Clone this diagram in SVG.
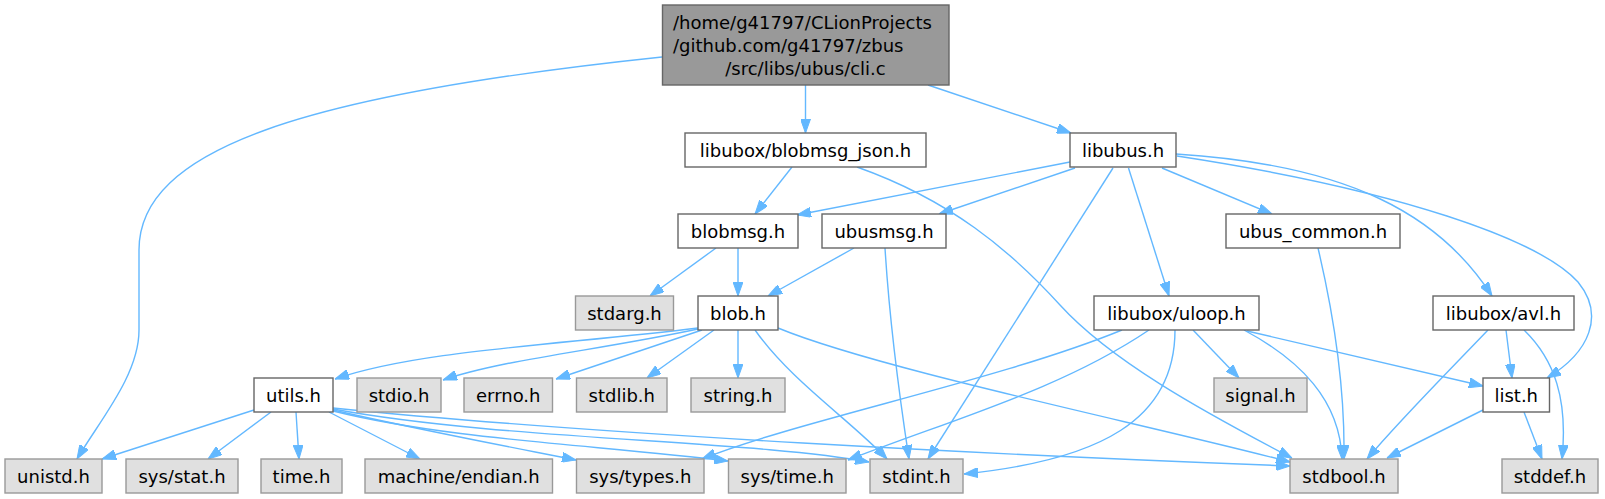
<svg xmlns="http://www.w3.org/2000/svg" width="1605" height="499" viewBox="0 0 1605 499">
<style>
text{font-family:"DejaVu Sans","Noto Sans",sans-serif;font-size:18px;fill:#000}
.n rect{fill:#fff;stroke:#666;stroke-width:1.4}
.g rect{fill:#e0e0e0;stroke:#999;stroke-width:1.4}
.r rect{fill:#999;stroke:#666;stroke-width:1.4}
.n text,.g text{text-anchor:middle}
#edges path{fill:none;stroke:#63b8ff;stroke-width:1.4;marker-end:url(#a)}
</style>
<defs>
<marker id="a" markerUnits="userSpaceOnUse" markerWidth="14" markerHeight="10" refX="14" refY="5" orient="auto"><path d="M0,0 L14,5 L0,10 z" fill="#63b8ff" stroke="#63b8ff" stroke-width="1"/></marker>
</defs>
<rect width="1605" height="499" fill="#fff"/>
<g id="edges">
<path d="M662,57 C300,95 139,150 139,250 L139,330 C139,375 100,420 77,459"/>
<path d="M805.5,85 L805.5,133"/>
<path d="M928,85 L1071,133"/>
<path d="M792,167 L755,214"/>
<path d="M857,167 C950,200 1010,250 1060,305 C1110,360 1200,410 1292,458"/>
<path d="M1070,162 L797,215"/>
<path d="M1075,168 L939,214"/>
<path d="M1128.5,168 L1169,296"/>
<path d="M1113,168 L928,459"/>
<path d="M1162,168 L1272,214"/>
<path d="M1176,154 C1350,165 1440,215 1492,296"/>
<path d="M1177,156 C1400,190 1540,240 1578,282 C1605,315 1590,352 1547,378"/>
<path d="M716,248 L650,296"/>
<path d="M738,248 L738,296"/>
<path d="M854,248 L768,296"/>
<path d="M885,248 C890,330 900,400 909,459"/>
<path d="M1318,248 C1335,320 1345,390 1344,459"/>
<path d="M698,328 C560,345 420,350 335,379"/>
<path d="M698,329 C600,350 500,360 443,380"/>
<path d="M702,330 L556,379"/>
<path d="M714,330 L647,378"/>
<path d="M738,330 L738,378"/>
<path d="M755,330 C790,380 850,420 887,459"/>
<path d="M778,328 C880,370 1150,425 1290,462"/>
<path d="M1122,330 C1000,380 800,420 702,459"/>
<path d="M1149,330 C1060,390 950,420 848,460"/>
<path d="M1175,330 C1175,420 1100,460 964,474"/>
<path d="M1193,330 L1239,378"/>
<path d="M1244,330 C1300,360 1340,400 1342,459"/>
<path d="M1247,331 L1483,386"/>
<path d="M1488,330 C1440,380 1400,420 1367,459"/>
<path d="M1506,330 L1512,378"/>
<path d="M1524,330 C1555,360 1568,400 1562,459"/>
<path d="M1483,410 L1387,458"/>
<path d="M1524,412 L1542,459"/>
<path d="M254,410 L102,459"/>
<path d="M271,412 L208,459"/>
<path d="M296,412 L299,459"/>
<path d="M329,412 L420,459"/>
<path d="M333,410 C420,430 500,445 576,460"/>
<path d="M333,411 C450,440 600,445 728,461"/>
<path d="M333,409 C500,440 750,440 869,462"/>
<path d="M333,408 C600,435 1000,455 1290,466"/>
</g>
<g id="root" class="r"><rect x="662.5" y="5" width="286.5" height="80"/><text x="673" y="28.5">/home/g41797/CLionProjects</text><text x="673" y="51.5">/github.com/g41797/zbus</text><text x="805.5" y="74.5" text-anchor="middle">/src/libs/ubus/cli.c</text></g>
<g id="blobmsg_json" class="n"><rect x="685" y="133" width="241" height="34"/><text x="805.5" y="157">libubox/blobmsg_json.h</text></g>
<g id="libubus" class="n"><rect x="1070" y="133" width="106" height="34"/><text x="1123" y="157">libubus.h</text></g>
<g id="blobmsg" class="n"><rect x="678" y="214" width="120" height="34"/><text x="738" y="238">blobmsg.h</text></g>
<g id="ubusmsg" class="n"><rect x="822" y="214" width="124" height="34"/><text x="884" y="238">ubusmsg.h</text></g>
<g id="ubus_common" class="n"><rect x="1226" y="214" width="174" height="34"/><text x="1313" y="238">ubus_common.h</text></g>
<g id="stdarg" class="g"><rect x="575.5" y="296" width="98" height="34"/><text x="624.5" y="320">stdarg.h</text></g>
<g id="blob" class="n"><rect x="698" y="296" width="80" height="34"/><text x="738" y="320">blob.h</text></g>
<g id="uloop" class="n"><rect x="1094" y="296" width="165" height="34"/><text x="1176.5" y="320">libubox/uloop.h</text></g>
<g id="avl" class="n"><rect x="1433" y="296" width="141" height="34"/><text x="1503.5" y="320">libubox/avl.h</text></g>
<g id="utils" class="n"><rect x="254" y="378" width="79" height="34"/><text x="293.5" y="402">utils.h</text></g>
<g id="stdio" class="g"><rect x="357" y="378" width="84" height="34"/><text x="399" y="402">stdio.h</text></g>
<g id="errno" class="g"><rect x="464" y="378" width="88.5" height="34"/><text x="508.25" y="402">errno.h</text></g>
<g id="stdlib" class="g"><rect x="576.5" y="378" width="90.5" height="34"/><text x="621.75" y="402">stdlib.h</text></g>
<g id="string" class="g"><rect x="691" y="378" width="94" height="34"/><text x="738" y="402">string.h</text></g>
<g id="signal" class="g"><rect x="1214" y="378" width="93" height="34"/><text x="1260.5" y="402">signal.h</text></g>
<g id="list" class="n"><rect x="1483" y="378" width="66.5" height="34"/><text x="1516.25" y="402">list.h</text></g>
<g id="unistd" class="g"><rect x="5" y="459" width="97" height="34"/><text x="53.5" y="483">unistd.h</text></g>
<g id="sys_stat" class="g"><rect x="126" y="459" width="112" height="34"/><text x="182" y="483">sys/stat.h</text></g>
<g id="time" class="g"><rect x="261" y="459" width="81" height="34"/><text x="301.5" y="483">time.h</text></g>
<g id="machine_endian" class="g"><rect x="365" y="459" width="187.5" height="34"/><text x="458.75" y="483">machine/endian.h</text></g>
<g id="sys_types" class="g"><rect x="576.5" y="459" width="127.5" height="34"/><text x="640.25" y="483">sys/types.h</text></g>
<g id="sys_time" class="g"><rect x="728.5" y="459" width="117.5" height="34"/><text x="787.25" y="483">sys/time.h</text></g>
<g id="stdint" class="g"><rect x="870" y="459" width="93" height="34"/><text x="916.5" y="483">stdint.h</text></g>
<g id="stdbool" class="g"><rect x="1290" y="459" width="108" height="34"/><text x="1344" y="483">stdbool.h</text></g>
<g id="stddef" class="g"><rect x="1502" y="459" width="96" height="34"/><text x="1550" y="483">stddef.h</text></g>
</svg>
